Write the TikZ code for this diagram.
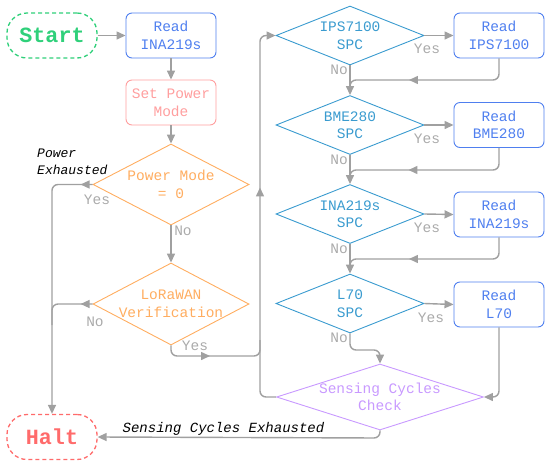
\documentclass[tikz,border=0pt]{standalone}
\usepackage{fontspec}
\setmainfont{Liberation Mono}
\usetikzlibrary{shapes.geometric,arrows.meta,decorations.markings}
\definecolor{cgreen}{HTML}{2FD07A}
\definecolor{cblue}{HTML}{4F7FEF}
\definecolor{cpink}{HTML}{FF9E9E}
\definecolor{corange}{HTML}{FFAD60}
\definecolor{cteal}{HTML}{3A9BCF}
\definecolor{cpurple}{HTML}{C899FF}
\definecolor{cred}{HTML}{FF6B6B}
\definecolor{cgray}{HTML}{A0A0A0}
\definecolor{clbl}{HTML}{AAAAAA}
\begin{document}
\begin{tikzpicture}[x=1pt,y=-1pt,
  box/.style={draw, rounded corners=6pt, minimum width=90pt, minimum height=45pt, align=center, inner sep=0pt, font=\fontsize{14.5}{17.5}\selectfont, line width=0.9pt},
  dia/.style={draw, diamond, inner sep=0pt, line width=0.9pt},
  dtext/.style={align=center, inner sep=0pt, font=\fontsize{14.5}{17.5}\selectfont},
  term/.style={draw, dash pattern=on 4pt off 3pt, rounded corners=20pt, minimum width=90pt, minimum height=45pt, line width=1.3pt, inner sep=0pt, font=\fontsize{21.7}{24}\selectfont\bfseries},
  conn/.style={draw=cgray, line width=1.4pt, rounded corners=6pt},
  arr/.style={-{Triangle[length=9pt,width=8pt]}},
  midarr/.style={postaction={decorate}, decoration={markings, mark=at position #1 with {\arrow{Triangle[length=9pt,width=8pt]}}}},
  lbl/.style={text=clbl, inner sep=0pt, font=\fontsize{14.5}{17.5}\selectfont},
  note/.style={inner sep=0pt, font=\fontsize{13}{17}\selectfont\itshape}
]
\useasboundingbox (0,0) rectangle (550,467);

% nodes
\node[term, draw=cgreen, text=cgreen] (start) at (52,35.5) {Start};
\node[box, draw=cblue, text=cblue] (r1) at (171,35.5) {Read\\INA219s};
\node[box, draw=cpink, text=cpink] (spm) at (171,102.5) {Set Power\\Mode};
\node[dia, draw=corange, minimum width=156pt, minimum height=81pt,
  label={[dtext,text=corange]center:{Power Mode\\= 0}}] (pm) at (171,184.5) {};
\node[dia, draw=corange, minimum width=156pt, minimum height=82pt,
  label={[dtext,text=corange]center:{LoRaWAN\\Verification}}] (lora) at (171,304) {};
\node[term, draw=cred, text=cred] (halt) at (52,437) {Halt};

\node[dia, draw=cteal, minimum width=148pt, minimum height=59pt,
  label={[dtext,text=cteal]center:{IPS7100\\SPC}}] (ips) at (350,35.5) {};
\node[dia, draw=cteal, minimum width=148pt, minimum height=59pt,
  label={[dtext,text=cteal]center:{BME280\\SPC}}] (bme) at (350,125) {};
\node[dia, draw=cteal, minimum width=148pt, minimum height=59pt,
  label={[dtext,text=cteal]center:{INA219s\\SPC}}] (ina) at (350,214) {};
\node[dia, draw=cteal, minimum width=148pt, minimum height=59pt,
  label={[dtext,text=cteal]center:{L70\\SPC}}] (l70) at (350,303.5) {};

\node[box, draw=cblue, text=cblue] (rips) at (499,35.5) {Read\\IPS7100};
\node[box, draw=cblue, text=cblue] (rbme) at (499,125) {Read\\BME280};
\node[box, draw=cblue, text=cblue] (rina) at (499,214.5) {Read\\INA219s};
\node[box, draw=cblue, text=cblue] (rl70) at (499,304.5) {Read\\L70};

\node[dia, draw=cpurple, minimum width=207pt, minimum height=66pt,
  label={[dtext,text=cpurple]center:{Sensing Cycles\\Check}}] (sense) at (380,397) {};

% connectors
\draw[conn,arr] (start) -- (r1);
\draw[conn,arr] (r1) -- (spm);
\draw[conn,arr] (spm) -- (pm);
\draw[conn,arr,midarr=12pt] (pm.west) -- (52,184.5) -- (halt.north);
\draw[conn,arr] (pm.south) -- (lora.north);
\draw[conn,midarr=12pt] (lora.west) -- (52,304) -- (52,325);
\draw[conn,midarr=47pt] (lora.south) -- (171,356) -- (260,356) -- (260,340);
\draw[conn,arr,midarr=223pt] (sense.west) -- (260,397) -- (260,35.5) -- (ips.west);

\draw[conn,arr] (ips.east) -- (rips.west);
\draw[conn,arr] (ips.south) -- (bme.north);
\draw[conn,midarr=109pt] (rips.south) -- (499,80) -- (350,80) -- (350,90);
\draw[conn,arr] (bme.east) -- (rbme.west);
\draw[conn,arr] (bme.south) -- (ina.north);
\draw[conn,midarr=110pt] (rbme.south) -- (499,170) -- (350,170) -- (350,180);
\draw[conn,arr] (ina.east) -- (rina.west);
\draw[conn,arr] (ina.south) -- (l70.north);
\draw[conn,midarr=109pt] (rina.south) -- (499,259) -- (350,259) -- (350,268);
\draw[conn,arr] (l70.east) -- (rl70.west);
\draw[conn,arr] (l70.south) -- (350,350) -- (380,350) -- (sense.north);
\draw[conn,arr] (rl70.south) -- (499,397) -- (sense.east);
\draw[conn,arr] (sense.south) -- (380,438) -- (halt.east);

% labels
\node[note, align=left, anchor=west] (pex) at (37,161.5) {Power\\Exhausted};
\node[lbl] (y1) at (97,200) {Yes};
\node[lbl] (n1) at (183,231) {No};
\node[lbl] (n2) at (95,322) {No};
\node[lbl] (y2) at (195,346) {Yes};
\node[lbl] (y3) at (427,49) {Yes};
\node[lbl] (n3) at (339,70) {No};
\node[lbl] (y4) at (427,139) {Yes};
\node[lbl] (n4) at (339,160) {No};
\node[lbl] (y5) at (427,228) {Yes};
\node[lbl] (n5) at (339,249) {No};
\node[lbl] (y6) at (431,318) {Yes};
\node[lbl] (n6) at (339,338) {No};
\node[note, font=\fontsize{14}{17}\selectfont\itshape] (sce) at (223.5,429) {Sensing Cycles Exhausted};
\end{tikzpicture}
\end{document}
